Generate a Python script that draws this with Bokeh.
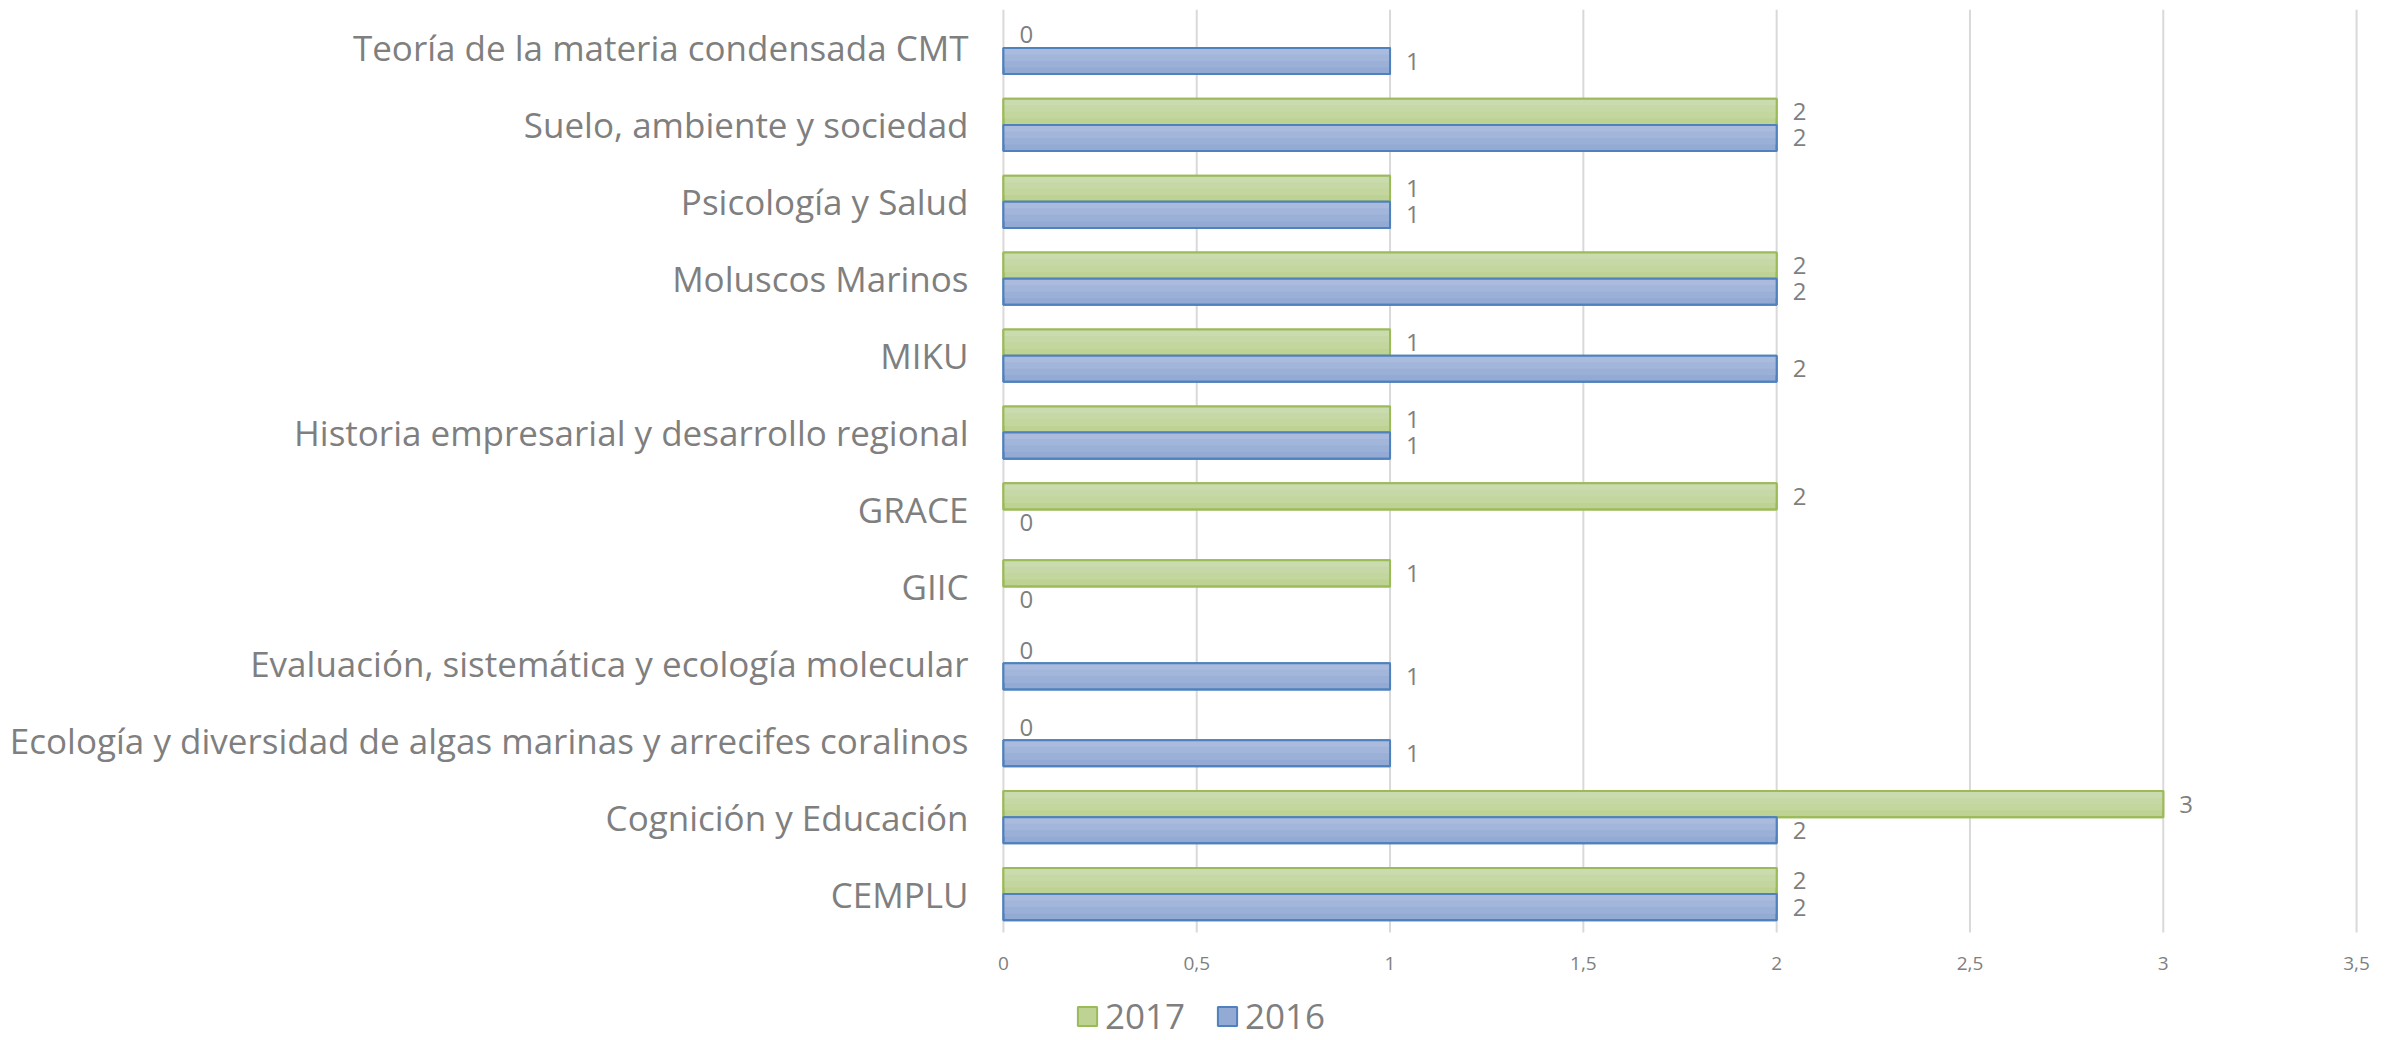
from bokeh.plotting import figure
from bokeh.models import (Legend, LegendItem, ColumnDataSource, FixedTicker, Range1d)
from bokeh.transform import dodge
from bokeh.core.properties import value
from bokeh.embed import file_html
from bokeh.resources import INLINE

categories = [
    "CEMPLU",
    "Cognición y Educación",
    "Ecología y diversidad de algas marinas y arrecifes coralinos",
    "Evaluación, sistemática y ecología molecular",
    "GIIC",
    "GRACE",
    "Historia empresarial y desarrollo regional",
    "MIKU",
    "Moluscos Marinos",
    "Psicología y Salud",
    "Suelo, ambiente y sociedad",
    "Teoría de la materia condensada CMT",
]
v2017 = [2, 3, 0, 0, 1, 2, 1, 1, 2, 1, 2, 0]
v2016 = [2, 2, 1, 1, 0, 0, 1, 2, 2, 1, 2, 1]
series_names = ["2017", "2016"]
x_ticks = [0, 0.5, 1, 1.5, 2, 2.5, 3, 3.5]
x_tick_labels = ["0", "0,5", "1", "1,5", "2", "2,5", "3", "3,5"]

pos = list(range(len(categories)))
src = ColumnDataSource(dict(
    pos=pos,
    cat=categories,
    v2017=v2017,
    v2016=v2016,
    t2017=[str(v) for v in v2017],
    t2016=[str(v) for v in v2016],
    # zero-length bars get no outline (as in the original)
    a2017=[1.0 if v > 0 else 0.0 for v in v2017],
    a2016=[1.0 if v > 0 else 0.0 for v in v2016],
))

FONT = "Open Sans"
GRAY = "#7f7f7f"

# styling: bottom -> top gradient steps, border colour
STYLE = {
    "2017": (["#bdd293", "#c2d69d", "#c6d8a6", "#cbdbb0"], "#9bbb59"),
    "2016": (["#93aad4", "#9bb0d7", "#a2b5da", "#aabbde"], "#4f81bd"),
}

y_lo = -0.5
y_hi = len(categories) - 0.5
extra = len(categories) * 108.0 / 923.0
x_pad = 0.08

p = figure(
    width=2391, height=1040,
    x_range=Range1d(x_ticks[0] - x_pad, x_ticks[-1] + x_pad),
    y_range=Range1d(y_lo - extra, y_hi),
    output_backend="svg", toolbar_location=None,
    min_border_left=972, min_border_right=4,
    min_border_top=9, min_border_bottom=0,
)
p.outline_line_color = None
p.xaxis.visible = False
p.grid.visible = False

# vertical grid lines
p.segment(x0=x_ticks, x1=x_ticks, y0=[y_lo] * len(x_ticks), y1=[y_hi] * len(x_ticks),
          line_color="#d9d9d9", line_width=2)

bar_h = 0.34
legend_renderers = {}
for name, off in (("2017", bar_h / 2), ("2016", -bar_h / 2)):
    fills, border = STYLE[name]
    base = p.hbar(y=dodge("pos", off), left=0, right="v" + name, height=bar_h,
                  source=src, fill_color=fills[0], line_color=border, line_width=2,
                  line_alpha="a" + name)
    legend_renderers[name] = base
    n = len(fills)
    for k in range(1, n):
        h = bar_h * (n - k) / n
        p.hbar(y=dodge("pos", off + bar_h / 2 - h / 2), left=0, right="v" + name,
               height=h, source=src, fill_color=fills[k], line_color=None)
    p.hbar(y=dodge("pos", off), left=0, right="v" + name, height=bar_h,
           source=src, fill_color=None, line_color=border, line_width=2,
           line_alpha="a" + name)
    p.text(x="v" + name, y=dodge("pos", off), text="t" + name,
           source=src, x_offset=16, text_baseline="middle", text_align="left",
           text_font=value(FONT), text_font_size="24px", text_color=GRAY)

# x tick labels (value axis) under the plot band
p.text(x=x_ticks, y=[y_lo] * len(x_ticks), text=x_tick_labels, y_offset=31,
       text_align="center", text_baseline="middle",
       text_font=value(FONT), text_font_size="19px", text_color=GRAY)

p.yaxis.ticker = FixedTicker(ticks=pos)
p.yaxis.major_label_overrides = {i: c for i, c in zip(pos, categories)}
p.yaxis.axis_line_color = None
p.yaxis.major_tick_line_color = None
p.yaxis.minor_tick_line_color = None
p.yaxis.major_tick_in = 0
p.yaxis.major_tick_out = 0
p.yaxis.major_label_text_font = FONT
p.yaxis.major_label_text_font_size = "35px"
p.yaxis.major_label_text_color = GRAY
p.yaxis.major_label_standoff = 4

legend = Legend(
    items=[LegendItem(label=series_names[0], renderers=[legend_renderers["2017"]], index=0),
           LegendItem(label=series_names[1], renderers=[legend_renderers["2016"]], index=0)],
    orientation="horizontal",
    location=(103, 1),
    padding=0, margin=0, spacing=30, label_standoff=6,
    glyph_width=24, glyph_height=24,
    label_text_font=FONT, label_text_font_size="35px", label_text_color=GRAY,
    border_line_color=None, background_fill_alpha=0,
)
p.add_layout(legend, "center")

open("out.html", "w").write(file_html(p, INLINE))
